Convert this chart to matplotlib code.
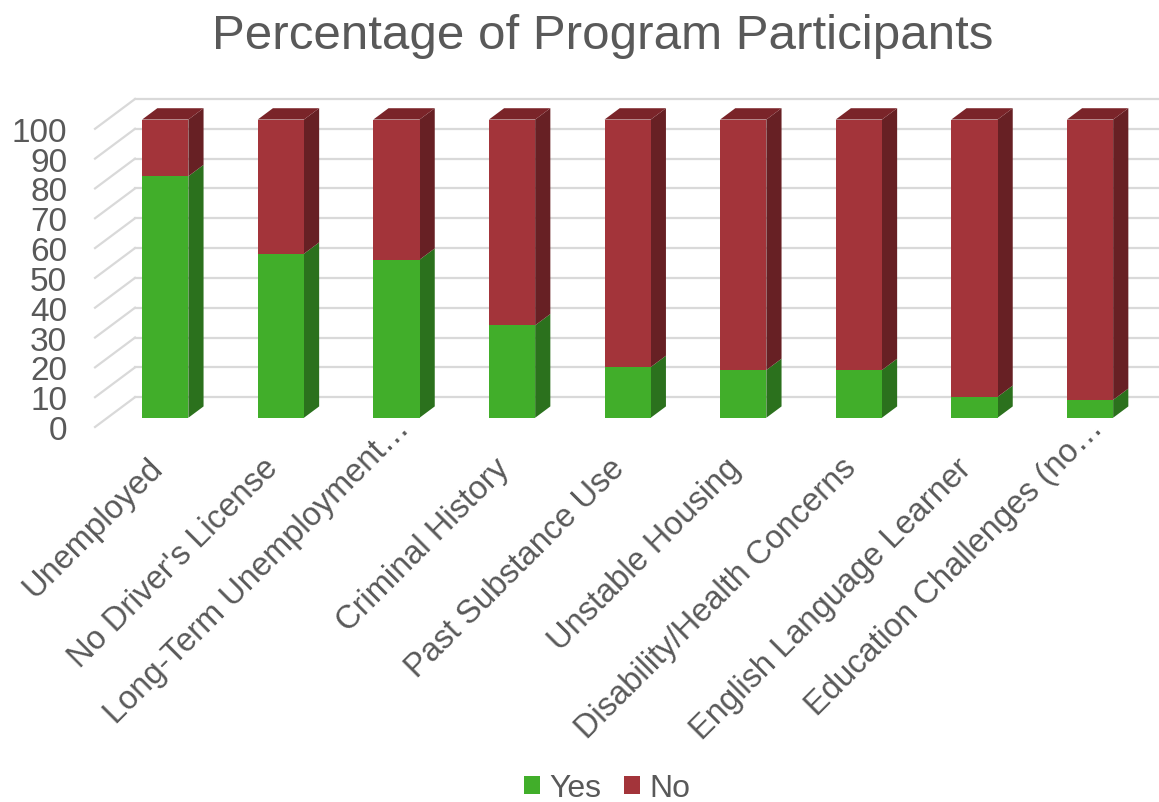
import matplotlib.pyplot as plt
import numpy as np
from matplotlib.patches import Patch, Polygon

plt.rcParams['font.family'] = ['Liberation Sans', 'DejaVu Sans']

categories = ["Unemployed", "No Driver's License", "Long-Term Unemployment\u2026",
              "Criminal History", "Past Substance Use", "Unstable Housing",
              "Disability/Health Concerns", "English Language Learner",
              "Education Challenges (no\u2026"]
yes_pct = [81, 55, 53, 31, 17, 16, 16, 7, 6]
no_pct = [19, 45, 47, 69, 83, 84, 84, 93, 94]
y_ticks = [0, 10, 20, 30, 40, 50, 60, 70, 80, 90, 100]

TEXT = '#595959'
GRID = '#d9d9d9'
# front, side, top shades
GREEN = ('#41ae2a', '#2b711d', '#358f22')
RED = ('#a3343a', '#672024', '#7a2429')

# oblique "3D": depth 1 shifts a point by (DX categories, DY units)
DX = 0.346
DY = 10
D0, D1 = 0.31, 0.69
WIDTH = 0.4
XMAX = 8.704

fig = plt.figure(figsize=(11.59, 8.03), dpi=100)
ax = fig.add_axes([0.082, 0.467, 0.918, 0.4085])
ax.set_xlim(-0.5, XMAX)
ax.set_ylim(0, 110)
for s in ax.spines.values():
    s.set_visible(False)

# back wall + left wall gridlines
x_left = -0.5
for v in y_ticks:
    ax.plot([x_left, x_left + DX], [v, v + DY], color=GRID, lw=1.6,
            clip_on=False, zorder=1)
    ax.plot([x_left + DX, XMAX], [v + DY, v + DY], color=GRID, lw=1.6,
            clip_on=False, zorder=1)

x = np.arange(len(categories))
xf = x + D0 * DX
dd = D1 - D0


def draw_segment(xc, lo, hi, cols, top=False):
    y0 = lo + D0 * DY
    y1 = hi + D0 * DY
    xr = xc + WIDTH / 2
    xl = xc - WIDTH / 2
    side = [(xr, y0), (xr + dd * DX, y0 + dd * DY),
            (xr + dd * DX, y1 + dd * DY), (xr, y1)]
    ax.add_patch(Polygon(side, closed=True, facecolor=cols[1],
                         edgecolor='none', zorder=2))
    if top:
        tp = [(xl, y1), (xl + dd * DX, y1 + dd * DY),
              (xr + dd * DX, y1 + dd * DY), (xr, y1)]
        ax.add_patch(Polygon(tp, closed=True, facecolor=cols[2],
                             edgecolor='none', zorder=2, clip_on=False))


bottoms = np.array(yes_pct)
for i in range(len(categories)):
    draw_segment(xf[i], 0, yes_pct[i], GREEN)
    draw_segment(xf[i], yes_pct[i], yes_pct[i] + no_pct[i], RED, top=True)

ax.bar(xf, yes_pct, WIDTH, bottom=D0 * DY, color=GREEN[0], zorder=3)
ax.bar(xf, no_pct, WIDTH, bottom=bottoms + D0 * DY, color=RED[0], zorder=3)

ax.set_yticks(y_ticks)
ax.set_yticklabels([str(v) for v in y_ticks], fontsize=24, color=TEXT)
ax.tick_params(axis='y', length=0, pad=20)

# category labels, rotated; truncated ones sit a bit further along
ax.set_xticks([])
for xc, lab in zip(x, categories):
    if lab.endswith('\u2026'):
        off = (19.4, -1.4)
    else:
        off = (7.9, -30.2)
    ax.annotate(lab, xy=(xc, 0), xycoords=('data', 'axes fraction'),
                xytext=off, textcoords='offset points', rotation=45,
                ha='right', va='baseline', rotation_mode='anchor',
                fontsize=23.5, color=TEXT, annotation_clip=False)

fig.text(0.52, 0.954, 'Percentage of Program Participants', ha='center',
         va='center', fontsize=35.5, color=TEXT)

handles = [Patch(facecolor=GREEN[0], label='Yes'),
           Patch(facecolor=RED[0], label='No')]
fig.legend(handles=handles, loc='center', bbox_to_anchor=(0.524, 0.0174),
           ncol=2, frameon=False, fontsize=23, handlelength=0.5,
           handleheight=0.5, handletextpad=0.31, columnspacing=0.69,
           labelcolor=TEXT)

fig.savefig('out.png', dpi=100)
